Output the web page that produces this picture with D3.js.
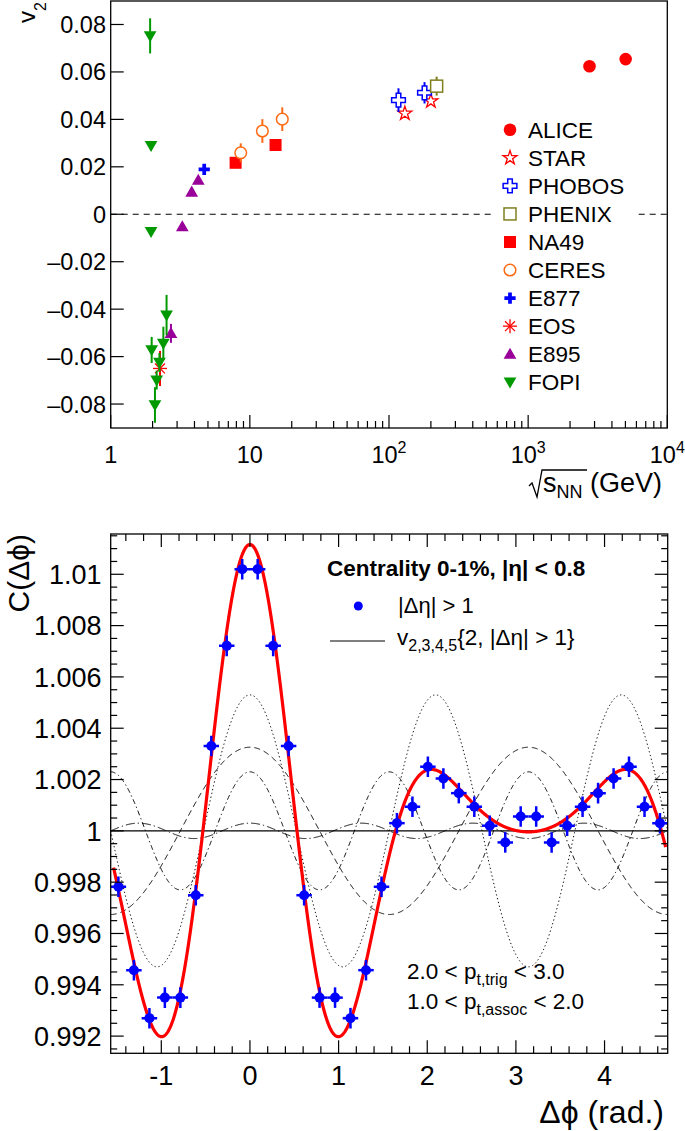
<!DOCTYPE html>
<html><head><meta charset="utf-8">
<script src="https://cdn.jsdelivr.net/npm/d3@7"></script>
<style>
body{margin:0;background:#fff;}
svg text{font-family:"Liberation Sans",Arial,Helvetica,sans-serif;fill:#000;}
</style></head><body>
<svg id="c" width="685" height="1131"></svg>
<script>
// ================= TOP PANEL DATA =================
const experiments = ["ALICE","STAR","PHOBOS","PHENIX","NA49","CERES","E877","EOS","E895","FOPI"];
const expColors   = ["#ff0000","#ff0000","#0000ff","#7f7f1f","#ff0000","#ff6a14","#0000ff","#ff0000","#990099","#009900"];
const expMarkers  = ["circleFilled","starOpen","crossOpen","squareOpen","squareFilled","circleOpen","crossFilled","asterisk","triUp","triDown"];
// individual points: experiment index, sqrt(s_NN) in GeV, v2, error
const ptExp   = [0,0, 1,1, 2,2, 3, 4,4, 5,5,5, 6, 7, 8,8,8,8, 9,9,9,9,9,9,9,9,9];
const ptSqrtS = [2760,5020, 130,200, 117,180, 220, 7.9,15.3, 8.6,12.3,17.1, 4.7, 2.26, 2.71,3.27,3.82,4.26, 1.92,1.95,1.95,1.97,2.08,2.14,2.24,2.39,2.52];
const ptV2    = [0.0624,0.0654, 0.0425,0.0477, 0.0481,0.0512, 0.054, 0.0217,0.0292, 0.0259,0.0351,0.0401, 0.0189, -0.065, -0.0502,-0.0052,0.0094,0.0144, 0.0752,0.0289,-0.0073,-0.0572,-0.0804,-0.0699,-0.0625,-0.0544,-0.0425];
const ptErr   = [0.0008,0.0008, 0.0015,0.0015, 0.005,0.0045, 0.004, 0.0008,0.0008, 0.004,0.005,0.005, 0.0008, 0.0074, 0.004,0.0015,0.0015,0.0015, 0.0074,0.002,0.0015,0.0055,0.0075,0.004,0.004,0.007,0.0085];
const xTicksTop = [1,10,100,1000,10000];
const xTickBaseTop = ["1","10","10","10","10"];
const xTickExpTop  = ["","","2","3","4"];
const yTicksTop = [-0.08,-0.06,-0.04,-0.02,0,0.02,0.04,0.06,0.08];
const yTickLabelsTop = ["\u20130.08","\u20130.06","\u20130.04","\u20130.02","0","0.02","0.04","0.06","0.08"];

// ================= BOTTOM PANEL DATA =================
const dphi = [-1.484,-1.309,-1.134,-0.960,-0.785,-0.611,-0.436,-0.262,-0.087,0.087,0.262,0.436,0.611,0.785,0.960,1.134,1.309,1.484,1.658,1.833,2.007,2.182,2.356,2.531,2.705,2.880,3.054,3.229,3.403,3.578,3.752,3.927,4.102,4.276,4.451,4.625];
const corr = [0.99782,0.99457,0.9927,0.9935,0.9935,0.99749,1.00331,1.00721,1.0102,1.0102,1.00721,1.00331,0.99749,0.9935,0.9935,0.9927,0.99457,0.99782,1.0003,1.00094,1.0025,1.00204,1.00147,1.00094,1.0002,0.99955,1.00056,1.00056,0.99955,1.0002,1.00094,1.00147,1.00204,1.0025,1.00094,1.0003];
const corrErr = [0.0004,0.0004,0.0004,0.0004,0.0004,0.0004,0.0004,0.0004,0.0004,0.0004,0.0004,0.0004,0.0004,0.0004,0.0004,0.0004,0.0004,0.0004,0.0004,0.0004,0.0004,0.0004,0.0004,0.0004,0.0004,0.0004,0.0004,0.0004,0.0004,0.0004,0.0004,0.0004,0.0004,0.0004,0.0004,0.0004];
const binHalfWidth = 0.0873;
// Fourier harmonics: order n and amplitude 2*v_n^2
const harmonicOrder = [2,3,4,5];
const harmonicAmp   = [0.00326,0.0053,0.0023,0.0003];
const harmonicDash  = ["6,4","1.3,2.6","5,3,1.3,3","9,3,1.3,3"];
const fitRange = [-1.54, 4.69];
const xTicksBottom = [-1,0,1,2,3,4];
const yTicksBottom = [0.992,0.994,0.996,0.998,1,1.002,1.004,1.006,1.008,1.01];
const yTickLabelsBottom = ["0.992","0.994","0.996","0.998","1","1.002","1.004","1.006","1.008","1.01"];

// ================= DRAW =================
const svg = d3.select("#c");
const FONT_T = 23.5;
const FONT_B = 27;
const PHI = "\u03d5";

// ---------- TOP PANEL ----------
const T = {l:110.7, r:667.3, t:1, b:428};
const xT = d3.scaleLog().domain([1,1e4]).range([T.l,T.r]);
const yT = d3.scaleLinear().domain([-0.0901,0.0899]).range([T.b,T.t]);
const gT = svg.append("g");

// zero dashed line
gT.append("line").attr("x1",T.l).attr("x2",T.r).attr("y1",yT(0)).attr("y2",yT(0))
  .attr("stroke","#000").attr("stroke-width",1).attr("stroke-dasharray","6,5");

// x ticks (log)
const minorTop = [];
for (let d=1; d<1e4; d*=10) for (let k=2;k<=9;k++) minorTop.push(d*k);
gT.selectAll(".xmin").data(minorTop).join("line")
  .attr("x1",d=>xT(d)).attr("x2",d=>xT(d)).attr("y1",T.b).attr("y2",T.b-7)
  .attr("stroke","#000").attr("stroke-width",1.2);
gT.selectAll(".xmaj").data(xTicksTop).join("line")
  .attr("x1",d=>xT(d)).attr("x2",d=>xT(d)).attr("y1",T.b).attr("y2",T.b-13)
  .attr("stroke","#000").attr("stroke-width",1.2);
xTicksTop.forEach((v,i)=>{
  const t = gT.append("text").attr("x",xT(v)).attr("y",463).attr("font-size",FONT_T).attr("text-anchor","middle");
  t.append("tspan").text(xTickBaseTop[i]);
  if (xTickExpTop[i]) t.append("tspan").attr("font-size",16).attr("dy",-10).text(xTickExpTop[i]);
});
// y ticks
gT.selectAll(".ymaj").data(yTicksTop).join("line")
  .attr("x1",T.l).attr("x2",T.l+13).attr("y1",d=>yT(d)).attr("y2",d=>yT(d))
  .attr("stroke","#000").attr("stroke-width",1.2);
gT.selectAll(".ylab").data(yTicksTop).join("text")
  .attr("x",106).attr("y",d=>yT(d)).attr("dy","0.36em").attr("text-anchor","end")
  .attr("font-size",FONT_T).text((d,i)=>yTickLabelsTop[i]);

// frame
gT.append("rect").attr("x",T.l).attr("y",T.t).attr("width",T.r-T.l).attr("height",T.b-T.t)
  .attr("fill","none").attr("stroke","#000").attr("stroke-width",1.3);

// marker drawing helper
function drawMarker(g, type, color, x, y) {
  const sym = (shape,size)=> d3.symbol().type(shape).size(size)();
  if (type==="circleFilled") g.append("circle").attr("cx",x).attr("cy",y).attr("r",6.3).attr("fill",color);
  else if (type==="circleOpen") g.append("circle").attr("cx",x).attr("cy",y).attr("r",5.8).attr("fill","#fff").attr("stroke",color).attr("stroke-width",1.5);
  else if (type==="squareFilled") g.append("rect").attr("x",x-6).attr("y",y-6).attr("width",12).attr("height",12).attr("fill",color);
  else if (type==="squareOpen") g.append("rect").attr("x",x-6).attr("y",y-6).attr("width",12).attr("height",12).attr("fill","#fff").attr("stroke",color).attr("stroke-width",1.5);
  else if (type==="starOpen") g.append("path").attr("d",sym(d3.symbolStar,60)).attr("transform",`translate(${x},${y})`).attr("fill","#fff").attr("stroke",color).attr("stroke-width",1.3);
  else if (type==="crossOpen") g.append("path").attr("d",sym(d3.symbolCross,105)).attr("transform",`translate(${x},${y})`).attr("fill","#fff").attr("stroke",color).attr("stroke-width",1.5);
  else if (type==="crossFilled") g.append("path").attr("d",sym(d3.symbolCross,70)).attr("transform",`translate(${x},${y})`).attr("fill",color);
  else if (type==="triUp") g.append("path").attr("d",sym(d3.symbolTriangle,70)).attr("transform",`translate(${x},${y+1})`).attr("fill",color);
  else if (type==="triDown") g.append("path").attr("d",sym(d3.symbolTriangle,70)).attr("transform",`translate(${x},${y-1}) rotate(180)`).attr("fill",color);
  else if (type==="asterisk") {
    const R = 7;
    [0,45,90,135].forEach(a=>{
      const c=Math.cos(a*Math.PI/180)*R, sn=Math.sin(a*Math.PI/180)*R;
      g.append("line").attr("x1",x-c).attr("y1",y-sn).attr("x2",x+c).attr("y2",y+sn).attr("stroke",color).attr("stroke-width",1.3);
    });
  }
}

// data points
const gPts = gT.append("g");
ptExp.forEach((e,i)=>{
  const x = xT(ptSqrtS[i]), y = yT(ptV2[i]);
  gPts.append("line").attr("x1",x).attr("x2",x).attr("y1",yT(ptV2[i]-ptErr[i])).attr("y2",yT(ptV2[i]+ptErr[i]))
    .attr("stroke",expColors[e]).attr("stroke-width",2);
  drawMarker(gPts, expMarkers[e], expColors[e], x, y);
});

// legend
gT.append("rect").attr("x",493).attr("y",113).attr("width",143).attr("height",283).attr("fill","#fff");
experiments.forEach((name,i)=>{
  const y = 129.8 + i*28.05;
  drawMarker(gT, expMarkers[i], expColors[i], 510, y);
  gT.append("text").attr("x",528).attr("y",y).attr("dy","0.36em").attr("font-size",22.5).text(name);
});

// axis titles
const v2t = gT.append("text").attr("transform","translate(35,2) rotate(-90)").attr("text-anchor","end").attr("font-size",24);
v2t.append("tspan").text("v");
v2t.append("tspan").attr("font-size",16).attr("dy",11).text("2");

// sqrt(s_NN) (GeV)
gT.append("path").attr("d","M529,486 L532,483 L537,497 L542,470 L587,470")
  .attr("fill","none").attr("stroke","#000").attr("stroke-width",1.3);
const st = gT.append("text").attr("x",543).attr("y",492).attr("font-size",27);
st.append("tspan").text("s");
st.append("tspan").attr("font-size",18).attr("dy",6).text("NN");
st.append("tspan").attr("dy",-6).text(" (GeV)");

// ---------- BOTTOM PANEL ----------
const B = {l:110.7, r:667.7, t:534, b:1053.3};
const xB = d3.scaleLinear().domain([-Math.PI/2, 3*Math.PI/2]).range([B.l,B.r]);
const yB = d3.scaleLinear().domain([0.99133,1.01157]).range([B.b,B.t]);
const gB = svg.append("g");
svg.append("clipPath").attr("id","clipB").append("rect")
  .attr("x",B.l).attr("y",B.t).attr("width",B.r-B.l).attr("height",B.b-B.t);
const gPlot = gB.append("g").attr("clip-path","url(#clipB)");

// harmonic curves
const phiGrid = d3.range(-Math.PI/2, 3*Math.PI/2+0.004, 0.004);
const line = d3.line().x(d=>xB(d[0])).y(d=>yB(d[1]));
harmonicOrder.forEach((n,i)=>{
  const pts = phiGrid.map(p=>[p, 1 + harmonicAmp[i]*Math.cos(n*p)]);
  gPlot.append("path").attr("d",line(pts)).attr("fill","none").attr("stroke","#000")
    .attr("stroke-width",1).attr("stroke-dasharray",harmonicDash[i]);
});
// baseline at 1
gPlot.append("line").attr("x1",B.l).attr("x2",B.r).attr("y1",yB(1)).attr("y2",yB(1))
  .attr("stroke","#000").attr("stroke-width",1.3);
// sum (red)
const fitGrid = phiGrid.filter(p=>p>=fitRange[0] && p<=fitRange[1]);
const sumPts = fitGrid.map(p=>[p, 1 + d3.sum(harmonicOrder,(n,i)=>harmonicAmp[i]*Math.cos(n*p))]);
gPlot.append("path").attr("d",line(sumPts)).attr("fill","none").attr("stroke","#ff0000").attr("stroke-width",3.2);

// data points
dphi.forEach((p,i)=>{
  const x=xB(p), y=yB(corr[i]);
  gPlot.append("line").attr("x1",xB(p-binHalfWidth)).attr("x2",xB(p+binHalfWidth)).attr("y1",y).attr("y2",y)
    .attr("stroke","#0000ff").attr("stroke-width",2.5);
  gPlot.append("line").attr("x1",x).attr("x2",x).attr("y1",yB(corr[i]-corrErr[i])).attr("y2",yB(corr[i]+corrErr[i]))
    .attr("stroke","#0000ff").attr("stroke-width",2.5);
  gPlot.append("circle").attr("cx",x).attr("cy",y).attr("r",5).attr("fill","#0000ff");
});

// ticks
const xMinB = d3.range(-1.4, 4.61, 0.2).filter(v=>Math.abs(v-Math.round(v))>0.05);
const yMinB = d3.range(0.9915, 1.0116, 0.0005).filter(v=>Math.abs(v*500-Math.round(v*500))>0.05);
[[B.b,-1],[B.t,1]].forEach(([y0,dir])=>{
  gB.selectAll(null).data(xMinB).join("line").attr("x1",d=>xB(d)).attr("x2",d=>xB(d))
    .attr("y1",y0).attr("y2",y0+dir*7).attr("stroke","#000").attr("stroke-width",1.2);
  gB.selectAll(null).data(xTicksBottom).join("line").attr("x1",d=>xB(d)).attr("x2",d=>xB(d))
    .attr("y1",y0).attr("y2",y0+dir*13).attr("stroke","#000").attr("stroke-width",1.2);
});
[[B.l,1],[B.r,-1]].forEach(([x0,dir])=>{
  gB.selectAll(null).data(yMinB).join("line").attr("y1",d=>yB(d)).attr("y2",d=>yB(d))
    .attr("x1",x0).attr("x2",x0+dir*6.5).attr("stroke","#000").attr("stroke-width",1.2);
  gB.selectAll(null).data(yTicksBottom).join("line").attr("y1",d=>yB(d)).attr("y2",d=>yB(d))
    .attr("x1",x0).attr("x2",x0+dir*13).attr("stroke","#000").attr("stroke-width",1.2);
});
gB.selectAll(".xl").data(xTicksBottom).join("text").attr("x",d=>xB(d)).attr("y",1085)
  .attr("text-anchor","middle").attr("font-size",FONT_B).text(d=>d<0?"-"+Math.abs(d):String(d));
gB.selectAll(".yl").data(yTicksBottom).join("text").attr("x",101.5).attr("y",d=>yB(d)).attr("dy","0.36em")
  .attr("text-anchor","end").attr("font-size",FONT_B).text((d,i)=>yTickLabelsBottom[i]);

// frame
gB.append("rect").attr("x",B.l).attr("y",B.t).attr("width",B.r-B.l).attr("height",B.b-B.t)
  .attr("fill","none").attr("stroke","#000").attr("stroke-width",1.3);

// legend & texts
gB.append("text").attr("x",327).attr("y",576).attr("font-size",22.5).attr("font-weight","bold")
  .text("Centrality 0-1%, |\u03b7| < 0.8");
gB.append("circle").attr("cx",358.3).attr("cy",606).attr("r",4.5).attr("fill","#0000ff");
gB.append("text").attr("x",398).attr("y",612.5).attr("font-size",22).text("|\u0394\u03b7| > 1");
gB.append("line").attr("x1",330).attr("x2",385).attr("y1",641).attr("y2",641).attr("stroke","#000").attr("stroke-width",1);
const vt = gB.append("text").attr("x",397).attr("y",645).attr("font-size",22.5);
vt.append("tspan").text("v");
vt.append("tspan").attr("font-size",16).attr("dy",6).text("2,3,4,5");
vt.append("tspan").attr("dy",-6).text("{2, |\u0394\u03b7| > 1}");

const p1 = gB.append("text").attr("x",407).attr("y",979).attr("font-size",22.5);
p1.append("tspan").text("2.0 < p");
p1.append("tspan").attr("font-size",16).attr("dy",6).text("t,trig");
p1.append("tspan").attr("dy",-6).text(" < 3.0");
const p2 = gB.append("text").attr("x",407).attr("y",1009).attr("font-size",22.5);
p2.append("tspan").text("1.0 < p");
p2.append("tspan").attr("font-size",16).attr("dy",6).text("t,assoc");
p2.append("tspan").attr("dy",-6).text(" < 2.0");

// axis titles
gB.append("text").attr("transform","translate(29,534) rotate(-90)").attr("text-anchor","end")
  .attr("font-size",30).text("C(\u0394"+PHI+")");
gB.append("text").attr("x",664).attr("y",1123).attr("text-anchor","end").attr("font-size",32)
  .text("\u0394"+PHI+" (rad.)");
</script>
</body></html>
